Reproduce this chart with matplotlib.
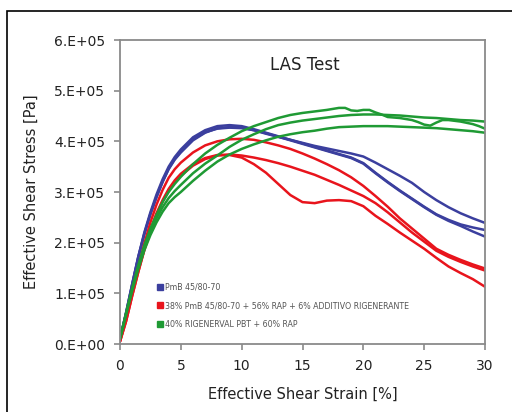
import matplotlib
matplotlib.use("Agg")
import matplotlib.pyplot as plt
from matplotlib.lines import Line2D
from matplotlib.patches import Rectangle

# strain grid shared by the smooth curves [%]
strain = [0, 0.5, 1, 1.5, 2, 2.5, 3, 3.5, 4, 4.5, 5, 6, 7, 8, 9, 10, 11, 12, 13, 14,
          15, 16, 17, 18, 19, 20, 21, 22, 23, 24, 25, 26, 27, 28, 29, 30]

# PmB 45/80-70 (x1e5 Pa)
blue_1 = [0.1, 0.62, 1.18, 1.72, 2.18, 2.57, 2.9, 3.2, 3.45, 3.64, 3.78, 4.02, 4.17,
          4.26, 4.28, 4.27, 4.22, 4.15, 4.09, 4.03, 3.97, 3.91, 3.86, 3.81, 3.76,
          3.7, 3.58, 3.45, 3.32, 3.18, 3.0, 2.84, 2.7, 2.58, 2.48, 2.39]
blue_2 = [0.1, 0.62, 1.18, 1.72, 2.2, 2.6, 2.95, 3.25, 3.5, 3.69, 3.84, 4.08, 4.22,
          4.3, 4.32, 4.3, 4.24, 4.17, 4.1, 4.03, 3.96, 3.89, 3.82, 3.75, 3.68,
          3.57, 3.38, 3.2, 3.03, 2.87, 2.71, 2.56, 2.45, 2.36, 2.3, 2.25]
blue_3 = [0.1, 0.6, 1.16, 1.7, 2.16, 2.56, 2.9, 3.2, 3.46, 3.65, 3.8, 4.04, 4.18,
          4.25, 4.27, 4.26, 4.22, 4.16, 4.09, 4.02, 3.95, 3.88, 3.81, 3.74, 3.67,
          3.56, 3.37, 3.19, 3.02, 2.86, 2.7, 2.55, 2.43, 2.33, 2.22, 2.12]

# 38% PmB 45/80-70 + 56% RAP + 6% additivo
red_1 = [0.05, 0.5, 1.0, 1.5, 1.98, 2.4, 2.75, 3.04, 3.28, 3.45, 3.58, 3.78, 3.92,
         4.0, 4.04, 4.05, 4.03, 3.98, 3.92, 3.85, 3.76, 3.66, 3.55, 3.43, 3.29,
         3.12, 2.92, 2.71, 2.48, 2.28, 2.08, 1.88, 1.76, 1.66, 1.57, 1.49]
red_2 = [0.05, 0.45, 0.95, 1.42, 1.85, 2.22, 2.55, 2.81, 3.02, 3.19, 3.32, 3.52, 3.65,
         3.72, 3.74, 3.72, 3.68, 3.63, 3.57, 3.5, 3.42, 3.34, 3.24, 3.14, 3.03,
         2.92, 2.78, 2.6, 2.4, 2.2, 2.02, 1.84, 1.72, 1.62, 1.53, 1.45]
red_3 = [0.05, 0.45, 0.95, 1.42, 1.87, 2.25, 2.58, 2.84, 3.06, 3.23, 3.36, 3.55, 3.67,
         3.73, 3.73, 3.68, 3.55, 3.38, 3.16, 2.94, 2.8, 2.78, 2.83, 2.84, 2.82,
         2.72, 2.53, 2.37, 2.2, 2.04, 1.88, 1.7, 1.53, 1.4, 1.28, 1.13]

# 40% RIGENERVAL PBT + 60% RAP
green_2 = [0.1, 0.6, 1.08, 1.52, 1.9, 2.22, 2.48, 2.7, 2.88, 3.02, 3.14, 3.37, 3.56,
           3.72, 3.89, 4.03, 4.14, 4.24, 4.32, 4.37, 4.41, 4.44, 4.47, 4.5, 4.52,
           4.53, 4.53, 4.52, 4.51, 4.49, 4.47, 4.46, 4.44, 4.42, 4.41, 4.39]
green_3 = [0.1, 0.58, 1.05, 1.48, 1.85, 2.15, 2.4, 2.61, 2.78, 2.9, 3.0, 3.22, 3.42,
           3.6, 3.74, 3.85, 3.94, 4.02, 4.09, 4.14, 4.18, 4.21, 4.25, 4.28, 4.29,
           4.3, 4.3, 4.3, 4.29, 4.28, 4.27, 4.26, 4.24, 4.22, 4.2, 4.17]
# the noisy green test has its own, finer strain points
green_1_strain = [0, 0.5, 1, 1.5, 2, 2.5, 3, 3.5, 4, 4.5, 5, 6, 7, 8, 9, 10, 11, 12,
                  13, 14, 15, 16, 17, 17.5, 18, 18.5, 19, 19.5, 20, 20.5, 21, 21.5,
                  22, 23, 24, 24.5, 25, 25.5, 26, 26.5, 27, 28, 29, 29.5, 30]
green_1 = [0.1, 0.6, 1.1, 1.55, 1.95, 2.28, 2.55, 2.8, 3.0, 3.16, 3.3, 3.55, 3.76,
           3.93, 4.07, 4.2, 4.3, 4.38, 4.46, 4.52, 4.56, 4.59, 4.62, 4.64, 4.66,
           4.66, 4.61, 4.6, 4.62, 4.62, 4.57, 4.53, 4.48, 4.46, 4.42, 4.38, 4.33,
           4.31, 4.37, 4.42, 4.42, 4.39, 4.34, 4.3, 4.25]

labels = ["PmB 45/80-70",
          "38% PmB 45/80-70 + 56% RAP + 6% ADDITIVO RIGENERANTE",
          "40% RIGENERVAL PBT + 60% RAP"]
colors = ["#3b3f9e", "#e8141c", "#1f9a34"]

y_ticks = [0, 1e5, 2e5, 3e5, 4e5, 5e5, 6e5]
y_tick_labels = ["0.E+00", "1.E+05", "2.E+05", "3.E+05", "4.E+05", "5.E+05", "6.E+05"]
x_ticks = [0, 5, 10, 15, 20, 25, 30]

fig = plt.figure(figsize=(5.12, 4.12), dpi=100)
ax = fig.add_axes([120 / 512, 68 / 412, 365 / 512, 304 / 412])

curves = [
    (strain, blue_1, colors[0]), (strain, blue_2, colors[0]), (strain, blue_3, colors[0]),
    (strain, red_1, colors[1]), (strain, red_2, colors[1]), (strain, red_3, colors[1]),
    (green_1_strain, green_1, colors[2]), (strain, green_2, colors[2]), (strain, green_3, colors[2]),
]
for xs, ys, c in curves:
    ax.plot(xs, [v * 1e5 for v in ys], color=c, lw=1.8,
            solid_capstyle="round", solid_joinstyle="round")

ax.set_xlim(0, 30)
ax.set_ylim(0, 6e5)
ax.set_xticks(x_ticks)
ax.set_yticks(y_ticks)
ax.set_yticklabels(y_tick_labels)
for s in ax.spines.values():
    s.set_color("#8a8a8a")
    s.set_linewidth(1.3)
ax.tick_params(direction="out", length=4.5, width=1.2, color="#8a8a8a",
               labelsize=10, labelcolor="#222222", pad=6)

ax.set_xlabel("Effective Shear Strain [%]", fontsize=10.5, color="#222222", labelpad=10)
ax.set_ylabel("Effective Shear Stress [Pa]", fontsize=10.5, color="#222222", labelpad=11)
ax.text(0.507, 0.918, "LAS Test", transform=ax.transAxes, ha="center", va="center",
        fontsize=12, color="#222222")

handles = [Line2D([], [], marker="s", ls="", color=c, markersize=4) for c in colors]
leg = ax.legend(handles, labels, loc="upper left", bbox_to_anchor=(0.1, 0.202),
                frameon=False, fontsize=5.7, labelspacing=1.2, handlelength=0.8,
                handletextpad=0.3, borderpad=0, borderaxespad=0)
for t in leg.get_texts():
    t.set_color("#555555")

# outer frame of the figure panel
fig.add_artist(Rectangle((7 / 512, -0.5), 2, 0.5 + (412 - 10.5) / 412,
                         transform=fig.transFigure, fill=False, lw=1.2, ec="black"))

fig.savefig("out.png", dpi=100)
